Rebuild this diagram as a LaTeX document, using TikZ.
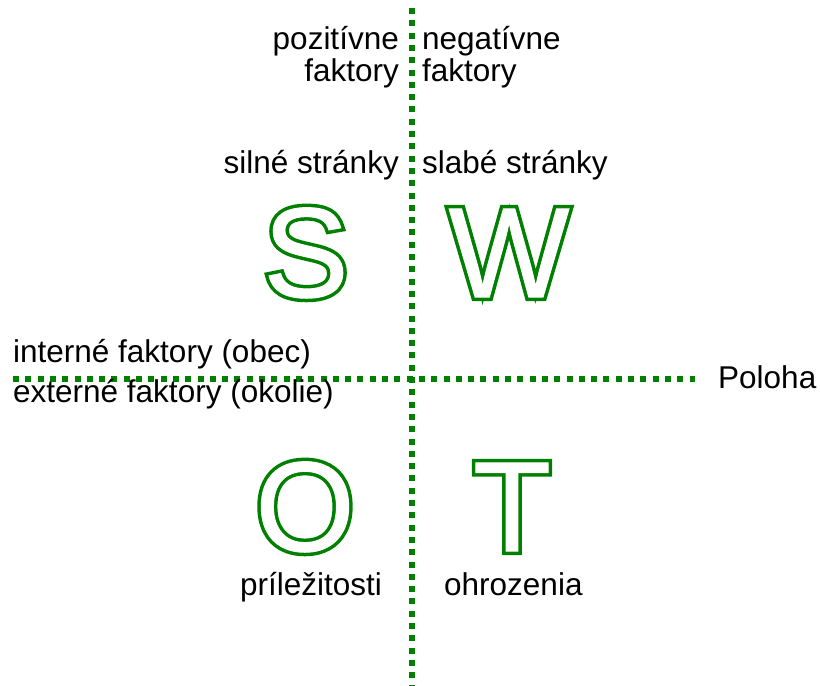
\documentclass[tikz,border=0pt]{standalone}
\usepackage{fontspec}
\setmainfont{Liberation Sans}
\definecolor{swotgreen}{RGB}{0,128,0}
% green band round a slightly emboldened glyph, white inside
\newcommand{\hollow}[1]{%
	\rlap{\special{pdf:literal direct q 2 Tr 8 w 0 0.502 0 RG 0 0.502 0 rg}#1\special{pdf:literal direct Q}}%
	\special{pdf:literal direct q 2 Tr 1 w 1 G 1 g}#1\special{pdf:literal direct Q}}

\begin{document}
\begin{tikzpicture}[x=1pt,y=-1pt,
	axis/.style={swotgreen, line width=6pt, dash pattern=on 6pt off 6.3pt},
	lbl/.style={inner sep=0pt, font=\fontsize{31.5}{33}\selectfont},
	letter/.style={inner sep=0pt, anchor=base, text depth=0pt, text=swotgreen, font=\fontsize{128}{128}\selectfont}]
	\useasboundingbox (0,0) rectangle (820,686);
	% axes
	\draw[axis] (13,379) -- (695,379);
	\draw[axis] (412,8) -- (412,686);
	\node[lbl, anchor=base west] (poloha) at (718,388) {Poloha};
	% top labels
	\node[lbl, anchor=base east] (pos) at (399,49) {pozitívne};
	\node[lbl, anchor=base east] (posf) at (399,81) {faktory};
	\node[lbl, anchor=base west] (neg) at (422,49) {negatívne};
	\node[lbl, anchor=base west] (negf) at (422,81) {faktory};
	\node[lbl, anchor=base east] (silne) at (399,173) {silné stránky};
	\node[lbl, anchor=base west] (slabe) at (422,173) {slabé stránky};
	\node[lbl, anchor=base west] (int) at (13,362) {interné faktory (obec)};
	\node[lbl, anchor=base west] (ext) at (13,402) {externé faktory (okolie)};
	\node[lbl, anchor=base west] (prilez) at (240,595) {príležitosti};
	\node[lbl, anchor=base west] (ohroz) at (444,595) {ohrozenia};
	% big letters
	\node[letter] (S) at (306,297) {\hollow{S}};
	\node[letter] (W) at (509,297) {\hollow{W}};
	\node[letter] (O) at (305,551) {\hollow{O}};
	\node[letter] (T) at (512,551) {\hollow{T}};
\end{tikzpicture}
\end{document}
